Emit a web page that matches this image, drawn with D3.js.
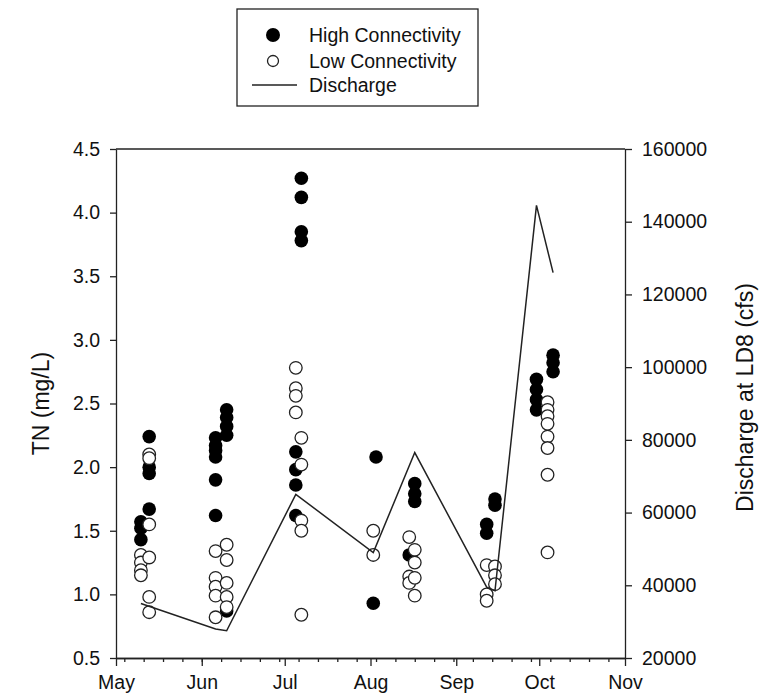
<!DOCTYPE html>
<html>
<head>
<meta charset="utf-8">
<script src="https://cdn.jsdelivr.net/npm/d3@7"></script>
<style>
  body { margin: 0; background: #fff; }
  text { font-family: Arial, "Liberation Sans", sans-serif; fill: #111; }
</style>
</head>
<body>
<div id="chart"></div>
<script>
// TN samples, high connectivity sites (filled)
var highConn = [
  ["2008-05-10", 1.57], ["2008-05-10", 1.52], ["2008-05-10", 1.43],
  ["2008-05-13", 2.24], ["2008-05-13", 2.00], ["2008-05-13", 1.95], ["2008-05-13", 1.67],
  ["2008-06-06", 2.23], ["2008-06-06", 2.17], ["2008-06-06", 2.13], ["2008-06-06", 2.08],
  ["2008-06-06", 1.90], ["2008-06-06", 1.62],
  ["2008-06-10", 2.45], ["2008-06-10", 2.39], ["2008-06-10", 2.32], ["2008-06-10", 2.25], ["2008-06-10", 0.87],
  ["2008-07-07", 4.27], ["2008-07-07", 4.12], ["2008-07-07", 3.85], ["2008-07-07", 3.78],
  ["2008-07-05", 2.12], ["2008-07-05", 1.98], ["2008-07-05", 1.86], ["2008-07-05", 1.62],
  ["2008-08-03", 2.08], ["2008-08-02", 0.93],
  ["2008-08-17", 1.87], ["2008-08-17", 1.79], ["2008-08-17", 1.73], ["2008-08-15", 1.31],
  ["2008-09-15", 1.75], ["2008-09-15", 1.70], ["2008-09-12", 1.55], ["2008-09-12", 1.48],
  ["2008-09-30", 2.69], ["2008-09-30", 2.61], ["2008-09-30", 2.53], ["2008-09-30", 2.45],
  ["2008-10-06", 2.88], ["2008-10-06", 2.82], ["2008-10-06", 2.75]
];

// TN samples, low connectivity sites (open)
var lowConn = [
  ["2008-05-10", 1.31], ["2008-05-10", 1.25], ["2008-05-10", 1.19], ["2008-05-10", 1.15],
  ["2008-05-13", 2.10], ["2008-05-13", 2.07], ["2008-05-13", 1.55], ["2008-05-13", 1.29],
  ["2008-05-13", 0.98], ["2008-05-13", 0.86],
  ["2008-06-06", 1.34], ["2008-06-06", 1.13], ["2008-06-06", 1.06], ["2008-06-06", 0.99], ["2008-06-06", 0.82],
  ["2008-06-10", 1.39], ["2008-06-10", 1.27], ["2008-06-10", 1.09], ["2008-06-10", 0.98], ["2008-06-10", 0.90],
  ["2008-07-05", 2.78], ["2008-07-05", 2.62], ["2008-07-05", 2.56], ["2008-07-05", 2.43],
  ["2008-07-07", 2.23], ["2008-07-07", 2.02], ["2008-07-07", 1.58], ["2008-07-07", 1.50], ["2008-07-07", 0.84],
  ["2008-08-02", 1.50], ["2008-08-02", 1.31],
  ["2008-08-15", 1.45], ["2008-08-15", 1.14], ["2008-08-15", 1.09],
  ["2008-08-17", 1.35], ["2008-08-17", 1.25], ["2008-08-17", 1.13], ["2008-08-17", 0.99],
  ["2008-09-12", 1.23], ["2008-09-12", 1.00], ["2008-09-12", 0.95],
  ["2008-09-15", 1.22], ["2008-09-15", 1.15], ["2008-09-15", 1.08],
  ["2008-10-04", 2.51], ["2008-10-04", 2.45], ["2008-10-04", 2.40], ["2008-10-04", 2.34],
  ["2008-10-04", 2.24], ["2008-10-04", 2.15], ["2008-10-04", 1.94], ["2008-10-04", 1.33]
];

// discharge at LD8 (cfs)
var discharge = [
  ["2008-05-10", 35000], ["2008-06-06", 28000], ["2008-06-10", 27500],
  ["2008-07-05", 65000], ["2008-08-02", 49000], ["2008-08-17", 76500],
  ["2008-09-12", 39500], ["2008-09-15", 38500], ["2008-09-30", 144500],
  ["2008-10-06", 126000]
];

var tnTicks = [0.5, 1.0, 1.5, 2.0, 2.5, 3.0, 3.5, 4.0, 4.5];
var qTicks = [20000, 40000, 60000, 80000, 100000, 120000, 140000, 160000];

var parse = d3.timeParse("%Y-%m-%d");

const margin = { top: 149, right: 148, bottom: 40, left: 116 };
const width = 773 - margin.left - margin.right;
const height = 698 - margin.top - margin.bottom;

const svg = d3.select("#chart")
    .append("svg")
    .attr("width", 773)
    .attr("height", 698)
    .append("g")
    .attr("transform", `translate(${margin.left}, ${margin.top})`);

const x = d3.scaleTime()
    .domain([parse("2008-05-01"), parse("2008-11-01")])
    .range([0, width]);
const y = d3.scaleLinear().domain([0.5, 4.5]).range([height, 0]);
const yQ = d3.scaleLinear().domain([20000, 160000]).range([height, 0]);

// minor weekly ticks on the x axis
svg.append("g")
    .attr("class", "axis")
    .attr("transform", `translate(0, ${height})`)
    .call(d3.axisBottom(x).ticks(d3.timeWeek).tickSize(4).tickSizeOuter(0).tickFormat(""));

svg.append("g")
    .attr("class", "axis")
    .attr("transform", `translate(0, ${height})`)
    .call(d3.axisBottom(x).ticks(d3.timeMonth).tickSize(8).tickSizeOuter(0)
        .tickFormat(d3.timeFormat("%b")).tickPadding(9));

svg.append("g")
    .attr("class", "axis")
    .call(d3.axisLeft(y).tickValues(tnTicks).tickSize(6).tickSizeOuter(0)
        .tickFormat(d3.format(".1f")).tickPadding(10));

svg.append("g")
    .attr("class", "axis")
    .attr("transform", `translate(${width}, 0)`)
    .call(d3.axisRight(yQ).tickValues(qTicks).tickSize(7).tickSizeOuter(0)
        .tickFormat(d3.format("d")).tickPadding(10));

// top frame line
svg.append("line")
    .attr("x1", 0).attr("x2", width)
    .attr("y1", 0).attr("y2", 0)
    .attr("stroke", "#222").attr("stroke-width", 1.3);

svg.selectAll(".axis path, .axis line")
    .attr("stroke", "#222")
    .attr("stroke-width", 1.3);
svg.selectAll(".axis text")
    .style("font-size", "19.5px")
    .attr("fill", "#111");

// points
svg.append("g").selectAll("circle")
    .data(highConn)
    .join("circle")
    .attr("cx", d => x(parse(d[0])))
    .attr("cy", d => y(d[1]))
    .attr("r", 6.8)
    .attr("fill", "#000");

svg.append("g").selectAll("circle")
    .data(lowConn)
    .join("circle")
    .attr("cx", d => x(parse(d[0])))
    .attr("cy", d => y(d[1]))
    .attr("r", 6.3)
    .attr("fill", "#fff")
    .attr("stroke", "#222")
    .attr("stroke-width", 1.3);

// discharge line
const line = d3.line()
    .x(d => x(parse(d[0])))
    .y(d => yQ(d[1]));
svg.append("path")
    .datum(discharge)
    .attr("fill", "none")
    .attr("stroke", "#222")
    .attr("stroke-width", 1.5)
    .attr("d", line);

// axis titles
svg.append("text")
    .attr("transform", `translate(-67, ${height / 2}) rotate(-90)`)
    .style("text-anchor", "middle")
    .style("font-size", "23px")
    .text("TN (mg/L)");
svg.append("text")
    .attr("transform", `translate(${width + 128}, ${height / 2 - 6}) rotate(-90)`)
    .style("text-anchor", "middle")
    .style("font-size", "23px")
    .text("Discharge at LD8 (cfs)");

// legend
const legend = d3.select("svg").append("g");
legend.append("rect")
    .attr("x", 237).attr("y", 9)
    .attr("width", 241).attr("height", 97)
    .attr("fill", "#fff")
    .attr("stroke", "#222").attr("stroke-width", 1.3);
legend.append("circle").attr("cx", 273).attr("cy", 35).attr("r", 7).attr("fill", "#000");
legend.append("circle").attr("cx", 273).attr("cy", 61).attr("r", 5.5)
    .attr("fill", "#fff").attr("stroke", "#222").attr("stroke-width", 1.3);
legend.append("line").attr("x1", 252).attr("x2", 297).attr("y1", 85).attr("y2", 85)
    .attr("stroke", "#222").attr("stroke-width", 1.5);
[["High Connectivity", 35], ["Low Connectivity", 61], ["Discharge", 85]].forEach(function (l) {
    legend.append("text")
        .attr("x", 309).attr("y", l[1])
        .attr("dy", "0.35em")
        .style("font-size", "19.5px")
        .text(l[0]);
});
</script>
</body>
</html>
